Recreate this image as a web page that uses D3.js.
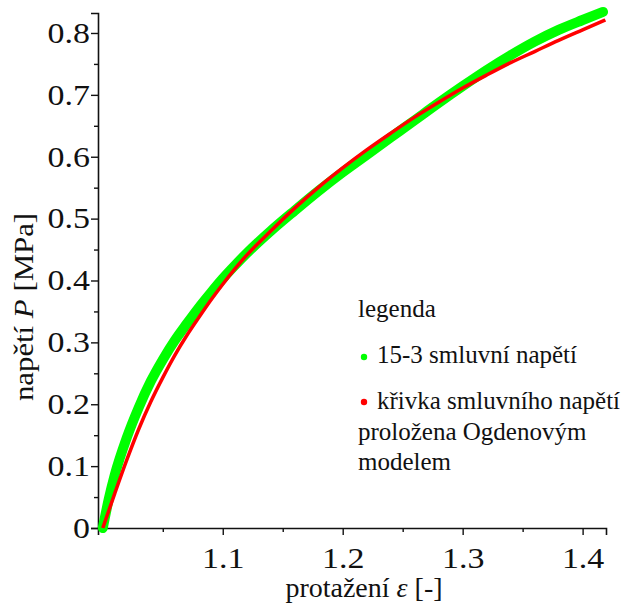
<!DOCTYPE html>
<html>
<head>
<meta charset="utf-8">
<script src="https://cdn.jsdelivr.net/npm/d3@7"></script>
<style>
  body { margin: 0; background: #fff; }
  svg text { fill: #111; }
</style>
</head>
<body>
<div id="chart"></div>
<script>
// measured data 15-3 (green band)
var measStrain = [1.000, 1.005, 1.010, 1.020, 1.030, 1.040, 1.050, 1.060, 1.070, 1.080,
                  1.090, 1.100, 1.110, 1.120, 1.140, 1.160, 1.180, 1.200, 1.220, 1.240,
                  1.260, 1.280, 1.300, 1.320, 1.340, 1.360, 1.380, 1.400, 1.417];
var measStress = [0.000, 0.047, 0.086, 0.146, 0.195, 0.237, 0.272, 0.303, 0.330, 0.356,
                  0.380, 0.403, 0.424, 0.444, 0.480, 0.513, 0.545, 0.575, 0.603, 0.631,
                  0.659, 0.687, 0.714, 0.740, 0.764, 0.786, 0.805, 0.821, 0.834];

// Ogden model fit (red line)
var fitStrain = [1.000, 1.010, 1.020, 1.030, 1.040, 1.050, 1.060, 1.070, 1.080, 1.090,
                 1.100, 1.120, 1.140, 1.160, 1.180, 1.200, 1.220, 1.240, 1.260, 1.280,
                 1.300, 1.320, 1.340, 1.360, 1.380, 1.400, 1.419];
var fitStress = [0.000, 0.056, 0.110, 0.160, 0.204, 0.243, 0.279, 0.311, 0.340, 0.368,
                 0.394, 0.441, 0.480, 0.517, 0.551, 0.582, 0.611, 0.638, 0.664, 0.688,
                 0.711, 0.732, 0.752, 0.770, 0.788, 0.805, 0.821];

var xTicks = [1.1, 1.2, 1.3, 1.4];
var xMinor = [1.05, 1.15, 1.25, 1.35];
var yTicks = [0, 0.1, 0.2, 0.3, 0.4, 0.5, 0.6, 0.7, 0.8];
var yTickLabels = ["0", "0.1", "0.2", "0.3", "0.4", "0.5", "0.6", "0.7", "0.8"];
var yMinor = [0.05, 0.15, 0.25, 0.35, 0.45, 0.55, 0.65, 0.75];

var legendLabels = ["15-3 smluvní napětí", "křivka smluvního napětí"];
var legendColors = ["#00ff00", "#ff0000"];

var serif = "'Liberation Serif', serif";
var width = 639, height = 606;

var svg = d3.select("#chart")
  .append("svg")
    .attr("width", width)
    .attr("height", height)
    .style("font-family", serif);

var x = d3.scaleLinear()
  .domain([0.996, 1.4195])
  .range([98, 606]);

var y = d3.scaleLinear()
  .domain([0, 0.8323])
  .range([528, 13]);

// axes
svg.append("g")
  .attr("transform", "translate(0," + y(0) + ")")
  .call(d3.axisBottom(x).tickValues(xTicks).tickSize(7).tickPadding(12).tickFormat(d3.format(".1f")));
svg.append("g")
  .attr("transform", "translate(0," + y(0) + ")")
  .call(d3.axisBottom(x).tickValues(xMinor).tickSize(4).tickFormat(""))
  .select(".domain").remove();

var yAxis = svg.append("g")
  .attr("transform", "translate(" + x(0.996) + ",0)")
  .call(d3.axisLeft(y).tickValues(yTicks).tickSize(7).tickPadding(1)
    .tickFormat(function(d, i) { return yTickLabels[i]; }));
svg.append("g")
  .attr("transform", "translate(" + x(0.996) + ",0)")
  .call(d3.axisLeft(y).tickValues(yMinor).tickSize(4).tickFormat(""))
  .select(".domain").remove();

svg.selectAll("g").attr("font-family", null);
svg.selectAll(".domain").attr("stroke", "#111").attr("stroke-width", 1.6);
svg.selectAll(".tick line").attr("stroke", "#111").attr("stroke-width", 1.4);
svg.selectAll(".tick text")
  .style("font-family", serif)
  .style("font-size", "29px")
  .attr("transform", "scale(1.17,1)")
  .attr("fill", "#111");
// keep the y labels ending just left of the ticks after the stretch
yAxis.selectAll(".tick text").attr("x", -8 / 1.17);

// curves
var line = d3.line()
  .x(function(d) { return x(d[0]); })
  .y(function(d) { return y(d[1]); })
  .curve(d3.curveMonotoneX);

svg.append("path")
  .datum(d3.zip(measStrain, measStress))
  .attr("fill", "none")
  .attr("stroke", legendColors[0])
  .attr("stroke-width", 10)
  .attr("stroke-linecap", "round")
  .attr("stroke-linejoin", "round")
  .attr("d", line);

svg.append("path")
  .datum(d3.zip(fitStrain, fitStress))
  .attr("fill", "none")
  .attr("stroke", legendColors[1])
  .attr("stroke-width", 3.5)
  .attr("d", line);

// axis titles
var xt = svg.append("text")
  .attr("x", 364)
  .attr("y", 597)
  .attr("text-anchor", "middle")
  .style("font-size", "28px");
xt.append("tspan").text("protažení ");
xt.append("tspan").style("font-style", "italic").text("ε");
xt.append("tspan").text(" [-]");

var yt = svg.append("text")
  .attr("transform", "translate(33,307) rotate(-90) scale(1.1,1)")
  .attr("text-anchor", "middle")
  .style("font-size", "28px");
yt.append("tspan").text("napětí ");
yt.append("tspan").style("font-style", "italic").text("P");
yt.append("tspan").text(" [MPa]");

// legend
var lg = svg.append("g").style("font-size", "25px");
lg.append("text").attr("x", 358).attr("y", 317).text("legenda");
for (var i = 0; i < 2; i++) {
  lg.append("circle")
    .attr("cx", 364)
    .attr("cy", 357 + i * 45)
    .attr("r", 3.2)
    .attr("fill", legendColors[i]);
  lg.append("text")
    .attr("x", 377)
    .attr("y", 363 + i * 45.5)
    .text(legendLabels[i]);
}
lg.append("text").attr("x", 358).attr("y", 440).text("proložena Ogdenovým");
lg.append("text").attr("x", 358).attr("y", 470).text("modelem");
</script>
</body>
</html>
